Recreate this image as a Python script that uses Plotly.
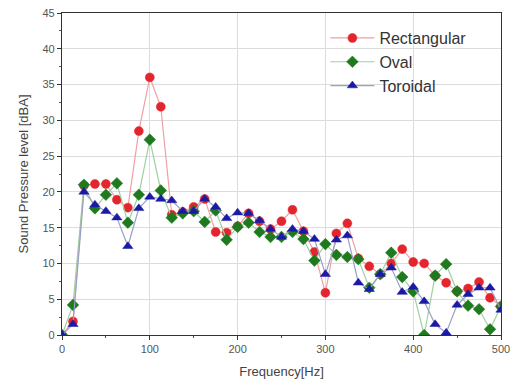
import plotly.graph_objects as go

freq = [i * 12.5 for i in range(41)]

rectangular = [0, 1.9, 20.9, 21.1, 21.1, 18.9, 17.8, 28.5, 36.0, 31.9,
               16.8, 17.2, 17.9, 19.0, 14.4, 14.3, 15.2, 17.0, 15.9, 14.8,
               15.9, 17.5, 14.5, 11.6, 5.9, 14.2, 15.6, 10.7, 9.6, 8.5,
               10.0, 12.0, 10.2, 10.0, 8.3, 7.3, 6.1, 6.5, 7.4, 5.2, 4.0]
oval = [0, 4.2, 21.0, 17.7, 19.6, 21.2, 15.7, 19.6, 27.3, 20.2,
        16.4, 17.0, 17.3, 15.8, 17.4, 13.3, 15.1, 15.7, 14.4, 13.7,
        13.7, 14.4, 13.4, 10.4, 12.7, 11.2, 10.9, 10.6, 6.6, 8.5,
        11.5, 8.1, 6.1, 0.0, 8.3, 9.9, 6.1, 4.1, 3.6, 0.8, 4.0]
toroidal = [0, 1.5, 20.0, 18.2, 17.3, 16.4, 12.4, 17.7, 19.3, 19.0,
            18.8, 17.3, 17.3, 19.0, 17.9, 16.3, 17.1, 17.0, 16.0, 14.8,
            13.7, 14.8, 14.5, 13.4, 8.5, 13.3, 13.9, 7.3, 6.4, 8.5,
            9.4, 6.0, 6.7, 4.7, 1.5, 0.3, 4.2, 5.7, 6.6, 6.6, 3.5]

series = [
    ("Rectangular", rectangular, "#e3262e", "#f0a0a4", "circle"),
    ("Oval", oval, "#1f7a1f", "#9fd09f", "diamond"),
    ("Toroidal", toroidal, "#1a1aa6", "#9aa0c8", "triangle-up"),
]

fig = go.Figure()
for name, vals, mc, lc, sym in series:
    fig.add_trace(go.Scatter(
        x=freq, y=vals, name=name, mode="lines+markers",
        line=dict(color=lc, width=1.2),
        marker=dict(symbol=sym, size=9, color=mc,
                    line=dict(color=mc, width=0.5)),
    ))

axis_common = dict(
    showline=True, linecolor="#333", linewidth=1.2, mirror=True,
    ticks="outside", ticklen=4, tickcolor="#333",
    showgrid=True, gridcolor="#dcdcdc", gridwidth=1,
    zeroline=False, automargin=False, ticklabeloverflow="allow",
    tickfont=dict(family="Liberation Sans, Arial", size=11, color="#555"),
    minor=dict(ticks="outside", ticklen=2, tickcolor="#555", showgrid=False),
)

fig.update_layout(
    width=515, height=392,
    margin=dict(l=62, r=14, t=13, b=57),
    paper_bgcolor="white", plot_bgcolor="white",
    font=dict(family="Liberation Sans, Arial", color="#444"),
    xaxis=dict(range=[0, 500], dtick=100, tick0=0,
               title=dict(text="Frequency[Hz]", font=dict(size=13, color="#444"), standoff=12),
               **axis_common),
    yaxis=dict(range=[0, 45], dtick=5, tick0=0,
               title=dict(text="Sound Pressure level [dBA]", font=dict(size=13, color="#444"), standoff=10),
               **axis_common),
    legend=dict(x=0.6, y=0.975, xanchor="left", yanchor="top",
                bgcolor="rgba(255,255,255,0)", borderwidth=0,
                font=dict(family="Liberation Sans, Arial", size=16, color="#333"),
                tracegroupgap=0, itemwidth=44),
    showlegend=True,
)
fig.update_xaxes(minor=dict(dtick=50))
fig.update_yaxes(minor=dict(dtick=2.5))

fig.write_html("out.html",
               config={"displayModeBar": False},
               post_script="document.body.style.margin='0';document.body.style.overflow='hidden';")
